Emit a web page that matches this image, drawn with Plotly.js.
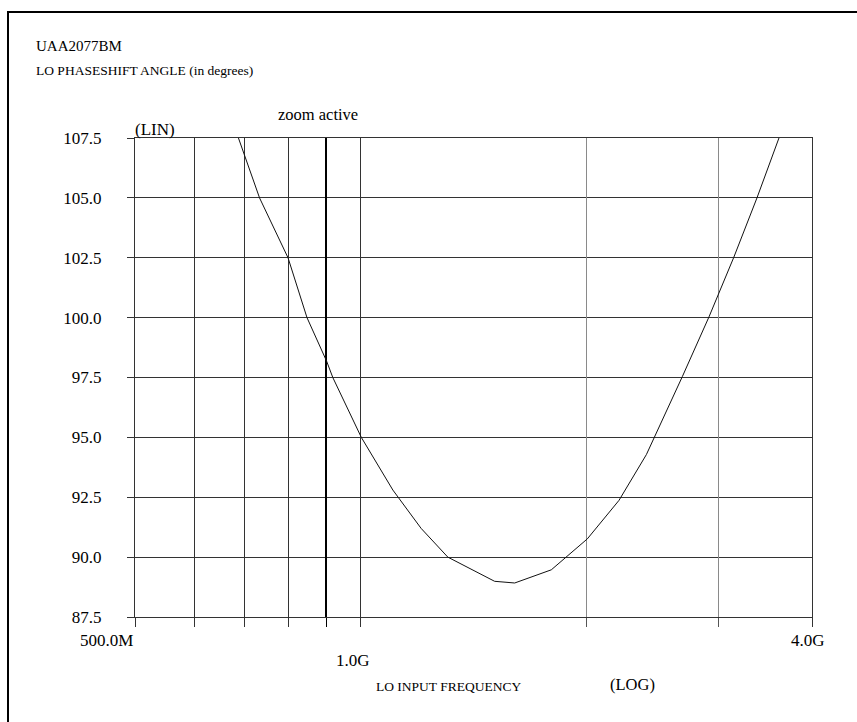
<!DOCTYPE html>
<html>
<head>
<meta charset="utf-8">
<script src="https://cdn.plot.ly/plotly-3.0.1.min.js"></script>
<style>
html,body{margin:0;padding:0;background:#fff;}
#frame{position:absolute;left:7px;top:11px;width:850px;height:711px;border-left:2px solid #000;border-top:2px solid #000;}
#chart{position:absolute;left:0;top:0;width:857px;height:722px;}
#chart svg text{font-family:'Liberation Serif' !important;}
</style>
</head>
<body>
<div id="frame"></div>
<div id="chart"></div>
<script>
// LO input frequency (Hz) and phaseshift angle (degrees)
const freqHz = [687e6, 733e6, 800e6, 848e6, 901e6, 918e6, 1002e6, 1104e6, 1204e6, 1307e6,
                1509e6, 1605e6, 1796e6, 2006e6, 2211e6, 2405e6, 2687e6, 2915e6, 3145e6, 3378e6, 3614e6];
const phaseDeg = [107.5, 105.0, 102.5, 100.0, 98.17, 97.5, 95.0, 92.8, 91.2, 90.0,
                  88.99, 88.92, 89.47, 90.76, 92.37, 94.28, 97.55, 100.03, 102.51, 105.0, 107.5];

const yTicks = [87.5, 90.0, 92.5, 95.0, 97.5, 100.0, 102.5, 105.0, 107.5];
const yTickText = ['87.5', '90.0', '92.5', '95.0', '97.5', '100.0', '102.5', '105.0', '107.5'];
const xGridDark = [5e8, 6e8, 7e8, 8e8, 1e9, 4e9];
const xGridBold = [9e8];
const xGridLight = [2e9, 3e9];
const xLabelVals = [5e8, 1e9, 4e9];
const xLabelText = ['500.0M', '1.0G', '4.0G'];

const SERIF = 'Liberation Serif';
const xRange = [Math.log10(5e8), Math.log10(4e9)];

const traces = [{
  x: freqHz, y: phaseDeg, type: 'scatter', mode: 'lines',
  line: {color: '#111', width: 1}, hoverinfo: 'skip', showlegend: false
}, {
  x: [5e8], y: [87.5], xaxis: 'x2', type: 'scatter', mode: 'markers',
  marker: {opacity: 0}, hoverinfo: 'skip', showlegend: false
}, {
  x: [5e8], y: [87.5], xaxis: 'x3', type: 'scatter', mode: 'markers',
  marker: {opacity: 0}, hoverinfo: 'skip', showlegend: false
}];

function paperX(px) { return (px - 135) / (812 - 135); }
function paperY(py) { return (617 - py) / (617 - 138); }
function f(size) { return {family: SERIF, size: size, color: '#000'}; }

const ann = [
  {text: 'UAA2077BM', xref: 'paper', yref: 'paper', x: paperX(34), y: paperY(46), xanchor: 'left', yanchor: 'middle', font: f(15), showarrow: false},
  {text: 'LO PHASESHIFT ANGLE (in degrees)', xref: 'paper', yref: 'paper', x: paperX(34), y: paperY(70), xanchor: 'left', yanchor: 'middle', font: f(13.5), showarrow: false},
  {text: 'zoom active', xref: 'paper', yref: 'paper', x: paperX(276), y: paperY(115), xanchor: 'left', yanchor: 'middle', font: f(16.5), showarrow: false},
  {text: '(LIN)', xref: 'paper', yref: 'paper', x: paperX(133), y: paperY(130), xanchor: 'left', yanchor: 'middle', font: f(17), showarrow: false},
  {text: 'LO INPUT FREQUENCY', xref: 'paper', yref: 'paper', x: paperX(374), y: paperY(686), xanchor: 'left', yanchor: 'middle', font: f(13.5), showarrow: false},
  {text: '(LOG)', xref: 'paper', yref: 'paper', x: paperX(608), y: paperY(684), xanchor: 'left', yanchor: 'middle', font: f(16.5), showarrow: false},
  {text: xLabelText[0], xref: 'x', yref: 'paper', x: Math.log10(xLabelVals[0]), y: paperY(640), xanchor: 'right', yanchor: 'middle', font: f(17), showarrow: false},
  {text: xLabelText[1], xref: 'x', yref: 'paper', x: Math.log10(xLabelVals[1]), y: paperY(660), xanchor: 'center', yanchor: 'middle', xshift: -8, font: f(17), showarrow: false},
  {text: xLabelText[2], xref: 'x', yref: 'paper', x: Math.log10(xLabelVals[2]), y: paperY(640), xanchor: 'center', yanchor: 'middle', xshift: -4, font: f(17), showarrow: false}
];

const layout = {
  width: 857, height: 722,
  margin: {l: 135, r: 45, t: 138, b: 105},
  paper_bgcolor: 'rgba(0,0,0,0)', plot_bgcolor: 'rgba(0,0,0,0)',
  showlegend: false,
  font: {family: SERIF},
  xaxis: {
    type: 'log', range: xRange, tickmode: 'array', tickvals: xGridDark, ticktext: xGridDark.map(() => ''),
    showgrid: true, gridcolor: '#333', gridwidth: 1,
    ticks: 'outside', ticklen: 9, tickcolor: '#333', tickwidth: 1,
    showline: true, linecolor: '#333', linewidth: 1, mirror: true, zeroline: false, fixedrange: true
  },
  xaxis2: {
    type: 'log', range: xRange, overlaying: 'x', anchor: 'y', tickmode: 'array', tickvals: xGridLight, ticktext: xGridLight.map(() => ''),
    showgrid: true, gridcolor: '#8a8a8a', gridwidth: 1,
    ticks: 'outside', ticklen: 9, tickcolor: '#555', tickwidth: 1, side: 'bottom',
    showline: false, zeroline: false, fixedrange: true
  },
  xaxis3: {
    type: 'log', range: xRange, overlaying: 'x', anchor: 'y', tickmode: 'array', tickvals: xGridBold, ticktext: xGridBold.map(() => ''),
    showgrid: true, gridcolor: '#000', gridwidth: 1.6,
    ticks: 'outside', ticklen: 9, tickcolor: '#000', tickwidth: 1, side: 'bottom',
    showline: false, zeroline: false, fixedrange: true
  },
  yaxis: {
    range: [87.5, 107.5], tickmode: 'array', tickvals: yTicks, ticktext: yTickText,
    showgrid: true, gridcolor: '#333', gridwidth: 1,
    ticks: 'outside', ticklen: 7, tickcolor: '#333', ticklabelstandoff: 22,
    tickfont: f(17),
    showline: true, linecolor: '#333', linewidth: 1, mirror: true, zeroline: false, fixedrange: true
  },
  annotations: ann
};

Plotly.newPlot('chart', traces, layout, {displayModeBar: false});
</script>
</body>
</html>
